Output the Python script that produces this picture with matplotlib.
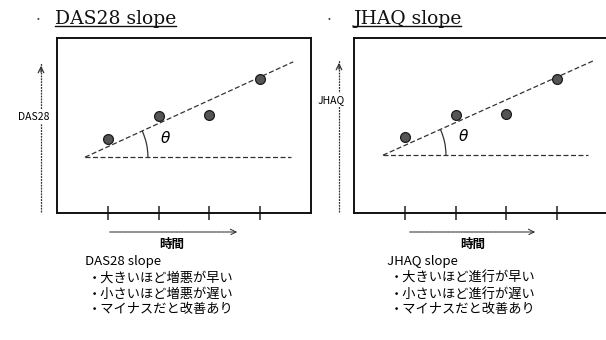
import numpy as np
import matplotlib
matplotlib.use("Agg")
import matplotlib.pyplot as plt
from matplotlib.patches import Arc
from matplotlib.lines import Line2D

plt.rcParams['font.family'] = ['Noto Sans CJK JP', 'DejaVu Sans']

W, H = 606, 340

# data (x in time steps, y in arbitrary units)
time_pts = [1, 2, 3, 4]
das28_vals = [1.46, 1.91, 1.93, 2.64]
jhaq_vals = [1.50, 1.93, 1.95, 2.64]
das28_line_x = [0.55, 4.65]
das28_line_y = [1.10, 2.98]
jhaq_line_x = [0.57, 4.71]
jhaq_line_y = [1.14, 3.00]
base_end = [4.60, 4.60]

titles = ["DAS28 slope", "JHAQ slope"]
ylabels = ["DAS28", "JHAQ"]
xlabel = "時間"
notes = [
    ["DAS28 slope", "・大きいほど増悪が早い", "・小さいほど増悪が遅い", "・マイナスだと改善あり"],
    ["JHAQ slope", "・大きいほど進行が早い", "・小さいほど進行が遅い", "・マイナスだと改善あり"],
]

fig = plt.figure(figsize=(W / 100, H / 100), dpi=100)
fig.patch.set_facecolor("white")


def px(x, y):
    # pixel from top-left -> figure fraction
    return x / W, 1 - y / H


def panel(left, vals, lx, ly, bx_end):
    ax = fig.add_axes([left / W, (H - 213) / H, 254 / W, 175 / H])
    ax.set_xlim(0, 5)
    ax.set_ylim(0, 3.45)
    for s in ax.spines.values():
        s.set_linewidth(1.4)
        s.set_color("#111111")
    ax.set_xticks(time_pts)
    ax.set_xticklabels([])
    ax.set_yticks([])
    ax.tick_params(axis="x", direction="inout", length=10, width=1.1, color="#222222")

    ax.plot(lx, ly, ls=(0, (4, 2)), color="#333333", lw=0.9)
    ax.plot([lx[0], bx_end], [ly[0], ly[0]], ls=(0, (4, 2)), color="#333333", lw=0.9)
    ax.scatter(time_pts, vals, s=50, color="#555555", edgecolor="#1a1a1a", lw=0.9, zorder=3)

    ang = np.degrees(np.arctan2(ly[1] - ly[0], lx[1] - lx[0]))
    r = 1.24
    ax.add_patch(Arc((lx[0], ly[0]), 2 * r, 2 * r, theta1=0, theta2=ang,
                     color="#333333", lw=0.9))
    ax.text(lx[0] + 1.58, ly[0] + 0.36, r"$\theta$", fontsize=11, ha="center", va="center")
    return ax


axL = panel(57, das28_vals, das28_line_x, das28_line_y, base_end[0])
axR = panel(354, jhaq_vals, jhaq_line_x, jhaq_line_y, base_end[1])

# y arrows with labels
for ax_x, lab_x, lab_y, top, lab in [(41, 34, 117, 63, ylabels[0]), (339, 331, 100, 60, ylabels[1])]:
    fig.add_artist(Line2D([ax_x / W, ax_x / W], [1 - 212 / H, 1 - top / H], color="#333333",
                          lw=0.9, ls=(0, (1.5, 0.8))))
    plt.annotate("", xy=px(ax_x, top), xycoords="figure fraction",
                 xytext=px(ax_x, top + 12), textcoords="figure fraction",
                 arrowprops=dict(arrowstyle="->", color="#333333", lw=0.9))
    fig.text(*px(lab_x, lab_y), lab, fontsize=7.5, ha="center", va="center",
             bbox=dict(facecolor="white", edgecolor="none", pad=1.5))

# x arrows
for x0, x1 in [(107, 240), (407, 538)]:
    plt.annotate("", xy=px(x1, 232), xycoords="figure fraction",
                 xytext=px(x0, 232), textcoords="figure fraction",
                 arrowprops=dict(arrowstyle="->", color="#333333", lw=0.8, ls=(0, (1.5, 0.8))))

# titles with bullet and underline
title_txt = []
for bx, tx, t in [(38, 55, titles[0]), (329, 353, titles[1])]:
    fig.text(*px(bx, 19), "•", fontsize=6, ha="center", va="center", color="#444444")
    tt = fig.text(*px(tx, 19), t, fontsize=13.5, ha="left", va="center",
                  family="DejaVu Serif", color="#111111")
    title_txt.append(tt)

# bottom labels and notes
for cx, nx, lines in [(172, 85, notes[0]), (473, 387, notes[1])]:
    fig.text(*px(cx, 244), xlabel, fontsize=9, weight="bold", ha="center", va="center")
    ys = [262, 278, 294, 310]
    for i, (y, s) in enumerate(zip(ys, lines)):
        fig.text(*px(nx + (0 if i == 0 else 3), y), s, fontsize=9.5, ha="left", va="center")

fig.canvas.draw()
rend = fig.canvas.get_renderer()
for tt in title_txt:
    bb = tt.get_window_extent(rend)
    yline = bb.y0 + 2
    fig.add_artist(Line2D([bb.x0 / W, bb.x1 / W], [yline / H, yline / H], color="#111111", lw=1.0))

fig.savefig("out.png", dpi=100)
